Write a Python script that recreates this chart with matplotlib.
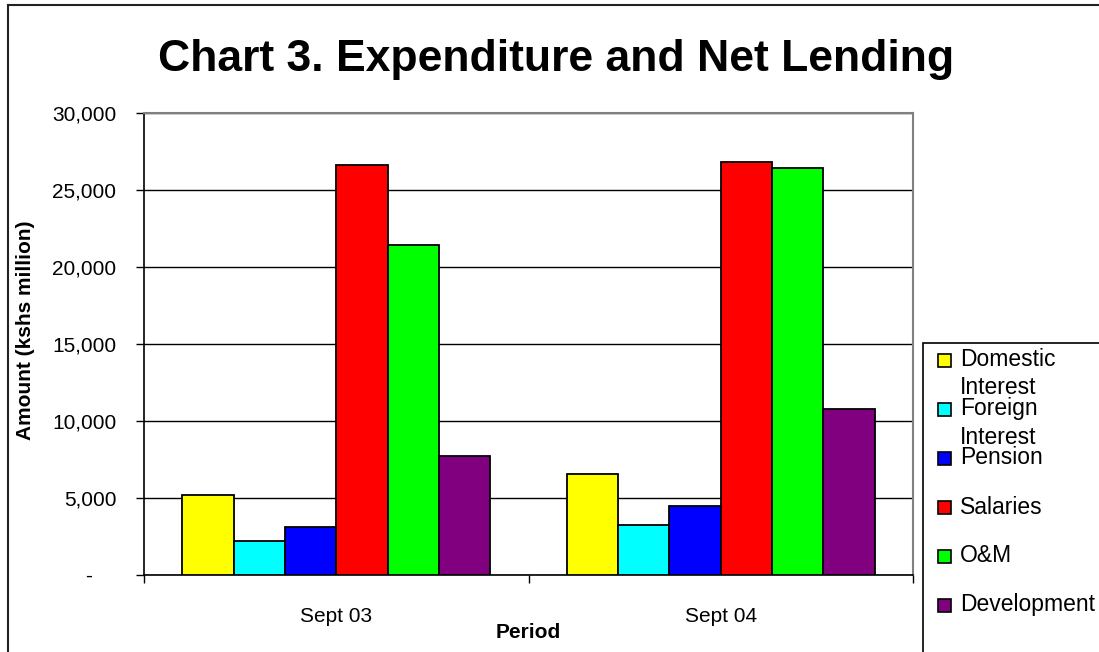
import matplotlib
matplotlib.use("Agg")
import matplotlib.pyplot as plt
from matplotlib.patches import Rectangle
from matplotlib.lines import Line2D
from matplotlib.ticker import FuncFormatter

plt.rcParams['font.family'] = ['Liberation Sans', 'DejaVu Sans']

periods = ["Sept 03", "Sept 04"]
series = ["Domestic\nInterest", "Foreign\nInterest", "Pension", "Salaries", "O&M", "Development"]
colors = ["#FFFF00", "#00FFFF", "#0000FF", "#FF0000", "#00FF00", "#800080"]
values = {
    "Domestic\nInterest": [5200, 6550],
    "Foreign\nInterest": [2200, 3250],
    "Pension": [3100, 4450],
    "Salaries": [26600, 26850],
    "O&M": [21400, 26450],
    "Development": [7700, 10800],
}
yticks = [0, 5000, 10000, 15000, 20000, 25000, 30000]

W, H = 1099, 652
fig = plt.figure(figsize=(W / 100, H / 100), dpi=100)
ax = fig.add_axes([144 / W, 1 - 575 / H, (913 - 144) / W, (575 - 113) / H])

n = len(series)
bw = 1 / 7.5
for i, s in enumerate(series):
    xs = [k + (i - (n - 1) / 2) * bw for k in range(len(periods))]
    ax.bar(xs, values[s], width=bw, color=colors[i], edgecolor="black", linewidth=1.3, zorder=3)

ax.set_xlim(-0.5, len(periods) - 0.5)
ax.set_ylim(0, 30000)
ax.set_yticks(yticks)
ax.yaxis.set_major_formatter(FuncFormatter(lambda v, p: "-    " if v == 0 else f"{v:,.0f}"))
ax.tick_params(axis="y", direction="out", length=6, width=1, labelsize=15, pad=14)
ax.set_xticks(range(len(periods)))
ax.set_xticklabels(periods)
ax.set_xticks([k - 0.5 for k in range(len(periods) + 1)], minor=True)
ax.tick_params(axis="x", which="major", length=0, labelsize=15, pad=23)
ax.tick_params(axis="x", which="minor", direction="out", length=6, width=1)
ax.yaxis.grid(True, color="black", linewidth=1, zorder=0)
ax.set_axisbelow(True)
for sp in ["top", "right"]:
    ax.spines[sp].set_color("#808080")
    ax.spines[sp].set_linewidth(1.5)
for sp in ["left", "bottom"]:
    ax.spines[sp].set_color("black")
    ax.spines[sp].set_linewidth(1.2)

fig.text(556 / W, 1 - 59 / H, "Chart 3. Expenditure and Net Lending", fontsize=32,
         fontweight="bold", ha="center", va="center")
fig.text(26 / W, 1 - 330 / H, "Amount (kshs million)", fontsize=15, fontweight="bold",
         rotation=90, ha="center", va="center")
fig.text(528 / W, 1 - 632 / H, "Period", fontsize=15, fontweight="bold", ha="center", va="center")

# legend box
fig.add_artist(Rectangle((923 / W, -0.05), 1.0, (1 - 343 / H) + 0.05, transform=fig.transFigure,
                         facecolor="white", edgecolor="black", linewidth=1.2))
ys = [360, 409, 458, 507, 556, 605]
for i, s in enumerate(series):
    y = ys[i]
    fig.add_artist(Rectangle((938 / W, 1 - (y + 7) / H), 13 / W, 13 / H, transform=fig.transFigure,
                             facecolor=colors[i], edgecolor="black", linewidth=1.2))
    lines = s.split("\n")
    for j, t in enumerate(lines):
        fig.text(960 / W, 1 - (y + 28 * j) / H, t, fontsize=16.5, ha="left", va="center")

# outer border
fig.add_artist(Line2D([8 / W, 8 / W], [-0.1, 1 - 5 / H], transform=fig.transFigure, color="#222222", linewidth=1.5))
fig.add_artist(Line2D([8 / W, 1.1], [1 - 5 / H, 1 - 5 / H], transform=fig.transFigure, color="#222222", linewidth=1.5))

fig.savefig("out.png", dpi=100)
